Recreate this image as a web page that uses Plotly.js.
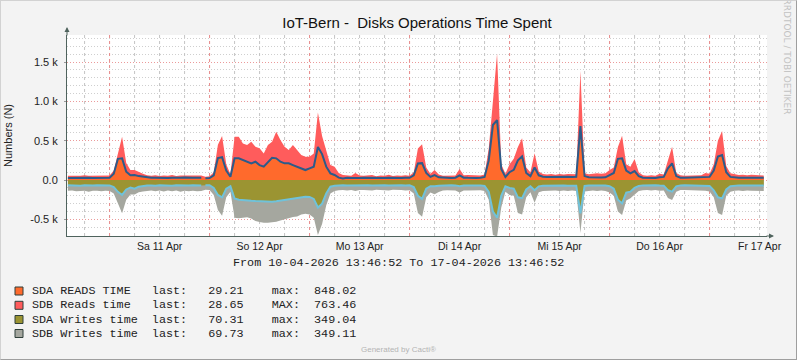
<!DOCTYPE html>
<html><head><meta charset="utf-8">
<script src="https://cdn.plot.ly/plotly-3.0.1.min.js"></script>
<style>
html,body{margin:0;padding:0;background:#f3f3f3;}
#wrap{position:relative;width:797px;height:360px;overflow:hidden;}
#chart{width:797px;height:360px;}
#frame{position:absolute;left:0;top:0;width:797px;height:360px;box-sizing:border-box;border-top:1px solid #d2d2d2;border-left:1px solid #d2d2d2;border-right:1px solid #9e9e9e;border-bottom:1px solid #9e9e9e;pointer-events:none;}
</style></head><body>
<div id="wrap"><div id="chart"></div><div id="frame"></div></div>
<script>
// ---- data (hourly, starting 10-04-2026 14:00) ----
const sdaReads = [
 26,28,25,30,27,29,26,28,31,27,
 30,80,270,276,106,60,64,50,40,32,
 28,30,27,29,26,30,27,28,32,27,
 29,28,30,22,25,60,280,290,120,42,
 276,276,254,233,212,233,190,170,233,284,
 276,233,212,212,190,170,140,127,148,170,
 420,330,170,85,64,30,21,28,25,30,
 27,28,26,30,25,28,27,30,26,28,
 27,30,28,60,210,215,90,40,64,35,
 28,30,27,30,60,30,28,32,27,30,
 40,250,700,763,140,40,100,130,250,300,
 90,50,160,60,42,40,42,40,44,40,
 42,40,42,687,50,35,32,35,33,35,
 64,90,270,276,120,85,114,50,30,28,
 30,27,35,40,150,212,50,30,28,30,
 27,30,28,35,40,120,300,318,100,40,
 32,28,30,28,30,28,30,29.21];
const sdbReads = [
 30,22,28,25,35,24,27,30,26,33,
 28,40,60,275,110,67,63,50,40,30,
 25,32,24,30,27,35,25,30,28,32,
 26,30,28,20,22,40,170,270,80,30,
 275,275,212,212,276,191,213,169,212,204,
 339,276,212,170,255,212,178,170,149,169,
 440,230,190,105,106,60,43,35,28,60,
 30,26,30,34,24,30,28,36,24,30,
 26,30,28,40,190,239,70,40,63,35,
 28,25,30,28,80,30,35,28,32,28,
 30,150,300,847,60,40,100,140,170,230,
 70,50,180,50,35,30,34,28,32,30,
 34,30,30,700,35,40,50,52,48,50,
 63,70,150,288,80,85,153,50,30,26,
 30,28,45,30,100,212,40,30,28,26,
 30,28,32,56,40,80,200,305,80,45,
 40,35,38,32,36,34,30,28.65];
const sdaWrites = [
 66,70,68,72,65,69,71,67,70,68,
 68,90,150,190,120,95,110,85,75,70,
 68,72,66,70,68,72,66,70,69,71,
 67,70,68,65,66,100,190,220,110,80,
 235,250,258,262,265,268,272,276,278,275,
 270,262,255,240,230,222,216,214,215,240,
 350,300,170,85,72,68,66,70,68,72,
 66,68,65,70,66,68,67,70,66,68,
 67,70,68,90,200,240,110,78,80,72,
 68,70,66,68,78,70,68,70,66,68,
 75,150,400,480,200,80,100,110,220,230,
 120,80,130,80,72,70,72,70,72,70,
 72,70,72,424,76,70,68,70,68,70,
 78,110,250,297,160,148,100,75,68,66,
 68,66,70,72,130,148,80,68,66,68,
 66,68,67,70,75,130,220,233,120,80,
 70,68,70,68,70,68,70,70.31];
const sdbWrites = [
 70,62,75,66,72,80,65,70,74,68,
 70,80,150,234,130,90,75,70,72,68,
 65,70,66,75,64,72,68,78,66,72,
 68,74,70,60,62,90,190,235,110,70,
 245,235,222,213,225,252,263,269,267,265,
 260,253,245,240,240,243,224,216,225,240,
 350,260,150,85,68,62,60,62,60,68,
 60,58,62,64,58,62,60,64,58,62,
 60,62,62,80,220,226,110,80,100,80,
 66,60,62,66,80,62,64,60,66,62,
 66,100,300,240,150,70,90,90,200,210,
 100,75,160,75,68,65,66,62,68,64,
 66,62,66,251,70,68,66,70,66,68,
 80,90,150,148,100,85,90,65,62,60,
 64,60,66,62,100,106,70,60,62,60,
 62,60,64,66,70,90,200,212,80,70,
 66,64,68,64,66,68,70,69.73];

const seriesNames = ['SDA READS TIME','SDB Reads time','SDA Writes time','SDB Writes time'];
const lastLabels = ['last:','last:','last:','last:'];
const lastValues = ['29.21','28.65','70.31','69.73'];
const maxLabels = ['max:','MAX:','max:','max:'];
const maxValues = ['848.02','763.46','349.04','349.11'];
const dayTickVals = ['2026-04-11 12:00','2026-04-12 12:00','2026-04-13 12:00','2026-04-14 12:00','2026-04-15 12:00','2026-04-16 12:00','2026-04-17 12:00'];
const dayTickText = ['Sa 11 Apr','So 12 Apr','Mo 13 Apr','Di 14 Apr','Mi 15 Apr','Do 16 Apr','Fr 17 Apr'];
const yTickVals = [-500,0,500,1000,1500];
const yTickText = ['-0.5 k','0.0','0.5 k','1.0 k','1.5 k'];
const Y_RANGE = [-712, 1845];
const RANGE_START = '2026-04-10 13:46:52';
const RANGE_END = '2026-04-17 13:46:52';
const GAP_TIME = '2026-04-11 22:40:00';

// ---- build ----
const START_MS = Date.UTC(2026,3,10,14,0,0);
const HOUR_MS = 3600000;
const fmt = ms => new Date(ms).toISOString().slice(0,19).replace('T',' ');
const times = sdaReads.map((_,i)=>fmt(START_MS+i*HOUR_MS));
function withGap(ys){
  const ox=[], oy=[];
  times.forEach((x,i)=>{ ox.push(x); oy.push(ys[i]);
    if (i+1<times.length && x<GAP_TIME && times[i+1]>GAP_TIME){ ox.push(GAP_TIME); oy.push(null); } });
  return {x:ox, y:oy};
}
const readsTotal = sdaReads.map((v,i)=>v+sdbReads[i]);
const writesA = sdaWrites.map(v=>-v);
const writesTotal = sdaWrites.map((v,i)=>-(v+sdbWrites[i]));

// vertical grid: midnights (major, red) and every 6 h (minor, grey)
function gridTrace(hoursFilter, color, dash){
  const gx=[], gy=[];
  for (let ms = Date.UTC(2026,3,10,18); ms <= Date.UTC(2026,3,17,12); ms += 6*HOUR_MS) {
    if (!hoursFilter(new Date(ms).getUTCHours())) continue;
    gx.push(fmt(ms), fmt(ms), null); gy.push(Y_RANGE[0], Y_RANGE[1], null);
  }
  return {x:gx,y:gy,type:'scatter',mode:'lines',line:{color:color,width:1,dash:dash},hoverinfo:'skip',showlegend:false,connectgaps:false};
}

const COL = {sdaR:'#FF6A2C', sdbR:'#FF5C5C', sdaW:'#9B9432', sdbW:'#A5A79F', blue:'#2C5B8A', cyan:'#70C2DA'};
function area(ys,color){ const d=withGap(ys); return {x:d.x,y:d.y,type:'scatter',mode:'lines',fill:'tozeroy',fillcolor:color,line:{width:0,color:color},hoverinfo:'skip',showlegend:false}; }
function line(ys,color){ const d=withGap(ys); return {x:d.x,y:d.y,type:'scatter',mode:'lines',line:{width:2,color:color},hoverinfo:'skip',showlegend:false}; }
const traces = [
  gridTrace(h=>h!==0, '#c4c4c4', 'dot'),
  gridTrace(h=>h===0, '#e88888', 'dot'),
  area(readsTotal, COL.sdbR),
  area(sdaReads, COL.sdaR),
  area(writesTotal, COL.sdbW),
  area(writesA, COL.sdaW),
  line(sdaReads, COL.blue),
  line(writesA, COL.cyan)
];

const L=67, R=30, T=35, B=124, W=797, H=360;
const PW=W-L-R, PH=H-T-B;
const px = x => (x-L)/PW;
const py = y => (H-B-y)/PH;
const AX = '#4f635d';
const SANS = 'Liberation Sans, Arial, sans-serif';
const MONO = 'Liberation Mono, Courier New, monospace';

const nb = s => s.replace(/ /g,'\u00a0');
const pad = (s,n) => s + ' '.repeat(Math.max(1,n-s.length));
const rowsY = [291, 305.3, 319.5, 333.5];
const legColors = [COL.sdaR, COL.sdbR, COL.sdaW, COL.sdbW];

const annotations = [
  {xref:'paper',yref:'paper',x:px(398.5),y:py(263),text:nb('From 10-04-2026 13:46:52 To 17-04-2026 13:46:52'),showarrow:false,xanchor:'center',yanchor:'middle',font:{family:MONO,size:11.75,color:'#222'}},
  {xref:'paper',yref:'paper',x:px(786.5),y:py(56),text:'RRDTOOL / TOBI OETIKER',textangle:90,showarrow:false,xanchor:'center',yanchor:'middle',font:{family:'DejaVu Sans, sans-serif',size:9,color:'#c2c2c2'}},
  {xref:'paper',yref:'paper',x:px(398),y:py(349),text:'Generated by Cacti®',showarrow:false,xanchor:'center',yanchor:'middle',font:{family:SANS,size:8,color:'#b3b3b3'}},
  {xref:'paper',yref:'paper',x:px(67),y:py(27),text:'',showarrow:true,ax:0,ay:10,arrowhead:2,arrowsize:1,arrowwidth:1,arrowcolor:AX},
  {xref:'paper',yref:'paper',x:px(774),y:py(236),text:'',showarrow:true,ax:-9,ay:0,arrowhead:2,arrowsize:1,arrowwidth:1,arrowcolor:AX}
];
const shapes = [];
seriesNames.forEach((n,i)=>{
  const txt = pad(n,17) + pad(lastLabels[i],8) + pad(lastValues[i],9) + pad(maxLabels[i],6) + maxValues[i];
  annotations.push({xref:'paper',yref:'paper',x:px(30),y:py(rowsY[i]),text:nb(txt),showarrow:false,xanchor:'left',yanchor:'middle',font:{family:MONO,size:11.75,color:'#222'}});
  shapes.push({type:'rect',xref:'paper',yref:'paper',x0:px(15),x1:px(23),y0:py(rowsY[i]+4),y1:py(rowsY[i]-4),fillcolor:legColors[i],line:{color:'#2f3f3a',width:1}});
});

const layout = {
  width:W, height:H,
  margin:{l:L,r:R,t:T,b:B,pad:0},
  paper_bgcolor:'#f3f3f3', plot_bgcolor:'#ffffff',
  title:{text:nb('IoT-Bern -  Disks Operations Time Spent'),x:0.5,xref:'paper',xanchor:'center',y:1-23/H,yanchor:'middle',font:{family:SANS,size:15,color:'#111'}},
  xaxis:{type:'date',range:[RANGE_START,RANGE_END],tickmode:'array',tickvals:dayTickVals,ticktext:dayTickText,ticks:'',showgrid:false,zeroline:false,showline:true,linecolor:AX,linewidth:1,tickfont:{family:SANS,size:10.5,color:'#222'}},
  yaxis:{range:Y_RANGE,tickmode:'array',tickvals:yTickVals,ticktext:yTickText,showgrid:true,gridcolor:'#eb9a9a',griddash:'1px,2px',zeroline:false,showline:true,linecolor:AX,ticks:'outside',ticklen:2,tickcolor:'#999',ticklabelstandoff:4,
    tickfont:{family:SANS,size:11,color:'#222'},
    title:{text:'Numbers (N)',standoff:15,font:{family:SANS,size:11,color:'#222'}},
    minor:{tickmode:'linear',tick0:0,dtick:100,showgrid:true,gridcolor:'#cfcfcf',griddash:'1px,2px'}},
  annotations, shapes,
  showlegend:false
};
Plotly.newPlot('chart', traces, layout, {staticPlot:true, displayModeBar:false});
</script></body></html>
